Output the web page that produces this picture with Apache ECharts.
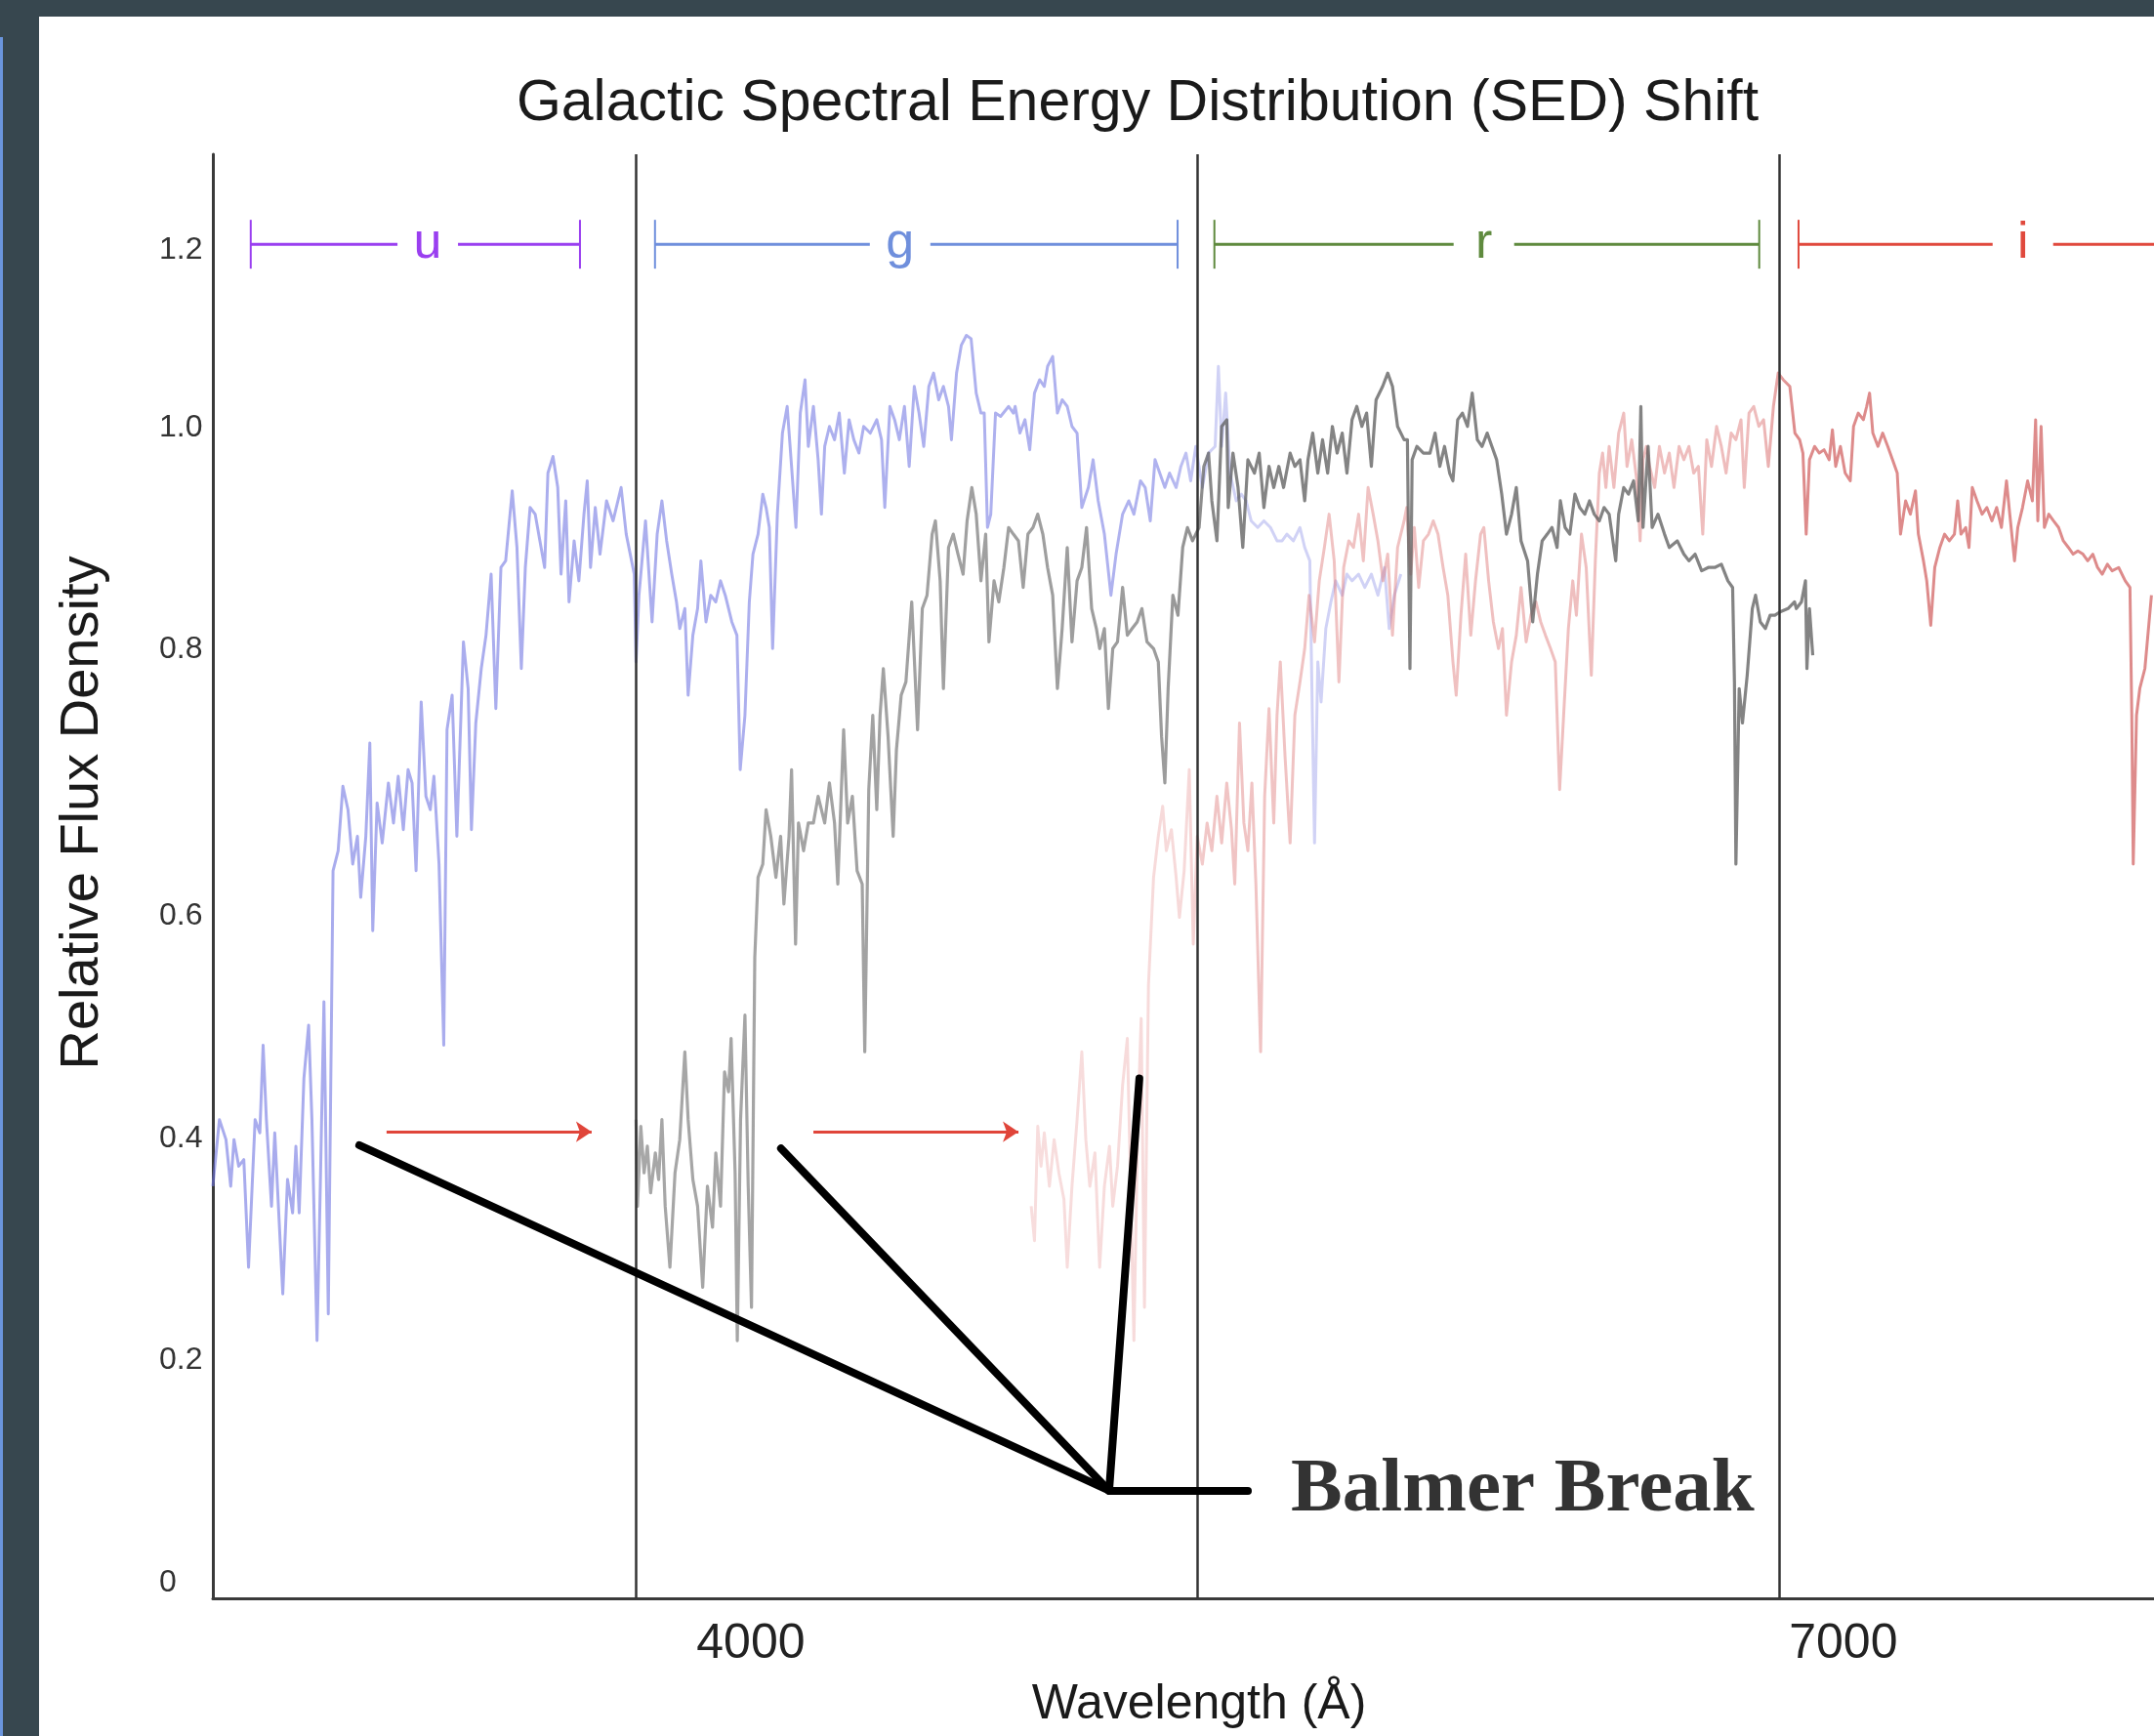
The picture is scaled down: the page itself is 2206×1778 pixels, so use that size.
<!DOCTYPE html>
<html>
<head>
<meta charset="utf-8">
<title>Galactic SED Shift</title>
<script src="https://cdn.jsdelivr.net/npm/echarts@6/dist/echarts.min.js"></script>
<style>
  html, body { margin: 0; padding: 0; }
  body { width: 2206px; height: 1778px; background: #37474f; position: relative; overflow: hidden; }
  #edge { position: absolute; left: 0; top: 38px; width: 3px; bottom: 0; background: #6a95dd; }
  #chart { position: absolute; left: 40px; top: 17px; width: 2166px; height: 1761px; background: #fff; }
</style>
</head>
<body>
<div id="edge"></div>
<div id="chart"></div>
<script>
// filter bands (wavelength in Angstrom)
var bandNames = ['u', 'g', 'r', 'i'];
var bandStart = [2627, 3737, 5273, 6877];
var bandEnd = [3531, 5172, 6769, 8300];
var bandLetterAt = [3113, 4410, 6013, 7493];
var bandLevel = 1.219;
var bandColors = ['#9a3ff0', '#6f8fdc', '#5f8a3e', '#e0493d'];
var bandEdges = [3685, 5225, 6825];

// axis ticks
var xTickValues = [4000, 7000];
var yTickValues = [0, 0.2, 0.4, 0.6, 0.84, 1.04, 1.2];
var yTickText = ['0', '0.2', '0.4', '0.6', '0.8', '1.0', '1.2'];

// rest-frame spectrum (blue), first shift (gray), second shift (pink)
var blueSpectrum = [
  [2523,0.371],[2541,0.431],[2559,0.413],[2572,0.371],[2581,0.413],[2594,0.389],[2608,0.395],[2621,0.298],
  [2639,0.431],[2652,0.419],[2661,0.498],[2670,0.431],[2684,0.353],[2693,0.419],[2715,0.274],[2728,0.377],
  [2742,0.347],[2751,0.407],[2760,0.347],[2773,0.468],[2786,0.516],[2795,0.431],[2809,0.232],[2818,0.371],
  [2828,0.537],[2840,0.256],[2853,0.655],[2867,0.673],[2880,0.731],[2894,0.710],[2907,0.661],[2920,0.686],
  [2929,0.631],[2943,0.686],[2954,0.770],[2962,0.601],[2974,0.716],[2988,0.680],[3005,0.734],[3019,0.698],
  [3032,0.740],[3046,0.692],[3059,0.746],[3070,0.734],[3081,0.655],[3095,0.807],[3108,0.722],[3120,0.710],
  [3130,0.740],[3144,0.661],[3157,0.498],[3166,0.782],[3180,0.813],[3193,0.686],[3211,0.861],[3224,0.819],
  [3233,0.692],[3245,0.788],[3260,0.837],[3273,0.867],[3287,0.922],[3300,0.801],[3314,0.928],[3327,0.934],
  [3345,0.997],[3358,0.946],[3370,0.837],[3381,0.928],[3394,0.982],[3408,0.976],[3421,0.952],[3434,0.928],
  [3443,1.013],[3457,1.028],[3470,1.000],[3479,0.922],[3492,0.988],[3501,0.897],[3515,0.952],[3528,0.916],
  [3542,0.976],[3551,1.006],[3560,0.928],[3573,0.982],[3586,0.940],[3604,0.988],[3622,0.970],[3644,1.000],
  [3658,0.958],[3680,0.922],[3685,0.843],[3693,0.903],[3711,0.970],[3729,0.879],[3743,0.958],[3756,0.988],
  [3769,0.952],[3783,0.922],[3796,0.897],[3805,0.873],[3819,0.891],[3828,0.813],[3841,0.867],[3854,0.891],
  [3863,0.934],[3877,0.879],[3890,0.903],[3904,0.897],[3917,0.916],[3930,0.903],[3948,0.879],[3962,0.867],
  [3971,0.746],[3984,0.795],[3996,0.897],[4006,0.940],[4020,0.958],[4033,0.994],[4042,0.982],[4051,0.964],
  [4060,0.855],[4073,0.976],[4087,1.049],[4100,1.073],[4112,1.019],[4124,0.964],[4136,1.067],[4149,1.097],
  [4158,1.037],[4172,1.073],[4185,1.025],[4194,0.976],[4203,1.037],[4216,1.055],[4230,1.043],[4243,1.067],
  [4257,1.013],[4270,1.061],[4283,1.043],[4297,1.031],[4310,1.055],[4328,1.049],[4346,1.061],[4359,1.043],
  [4368,0.982],[4382,1.073],[4395,1.061],[4408,1.043],[4422,1.073],[4435,1.019],[4449,1.091],[4462,1.067],
  [4475,1.037],[4489,1.091],[4502,1.103],[4516,1.079],[4529,1.091],[4543,1.073],[4551,1.043],[4565,1.103],
  [4578,1.128],[4592,1.137],[4605,1.134],[4619,1.085],[4632,1.067],[4641,1.067],[4650,0.964],[4659,0.976],
  [4672,1.067],[4686,1.064],[4708,1.073],[4721,1.067],[4726,1.073],[4739,1.049],[4753,1.061],[4766,1.034],
  [4779,1.085],[4793,1.097],[4806,1.091],[4815,1.109],[4829,1.118],[4842,1.067],[4855,1.079],[4869,1.073],
  [4882,1.055],[4896,1.049],[4909,0.982],[4927,1.000],[4940,1.025],[4954,0.988],[4971,0.958],[4989,0.903],
  [5003,0.940],[5021,0.976],[5038,0.988],[5052,0.976],[5070,1.006],[5083,1.000],[5097,0.970],[5110,1.025],
  [5123,1.013],[5137,1.000],[5150,1.013],[5168,1.000],[5181,1.019],[5195,1.031],[5208,1.006],[5222,1.037],
  [5240,1.000],[5257,1.031],[5275,1.037],[5284,1.109],[5293,1.037],[5304,1.085],[5316,1.013],[5333,0.988],
  [5347,0.994],[5360,0.988],[5374,0.970],[5392,0.964],[5409,0.970],[5427,0.964],[5445,0.952],[5459,0.952],
  [5472,0.958],[5490,0.952],[5508,0.964],[5521,0.946],[5535,0.934],[5542,0.795],[5548,0.680],[5557,0.843],
  [5566,0.807],[5579,0.873],[5593,0.897],[5606,0.916],[5624,0.903],[5637,0.922],[5651,0.916],[5669,0.922],
  [5686,0.910],[5704,0.922],[5722,0.903],[5740,0.928],[5753,0.873],[5767,0.903],[5785,0.922]
];
var graySpectrum = [
  [3685,0.431],[3689,0.353],[3698,0.425],[3707,0.383],[3716,0.407],[3725,0.365],[3738,0.401],[3747,0.377],
  [3756,0.431],[3765,0.353],[3778,0.298],[3792,0.383],[3805,0.413],[3819,0.492],[3828,0.431],[3841,0.377],
  [3854,0.353],[3868,0.280],[3881,0.371],[3895,0.334],[3904,0.401],[3917,0.353],[3928,0.474],[3939,0.456],
  [3946,0.504],[3957,0.383],[3963,0.232],[3972,0.431],[3984,0.525],[3993,0.371],[4002,0.262],[4011,0.577],
  [4020,0.649],[4033,0.661],[4042,0.710],[4055,0.686],[4069,0.649],[4082,0.686],[4091,0.625],[4105,0.686],
  [4112,0.746],[4123,0.589],[4131,0.698],[4145,0.673],[4158,0.698],[4172,0.698],[4185,0.722],[4203,0.698],
  [4216,0.734],[4230,0.698],[4239,0.643],[4255,0.782],[4266,0.698],[4279,0.722],[4292,0.655],[4306,0.643],
  [4313,0.492],[4324,0.728],[4335,0.795],[4346,0.710],[4355,0.795],[4364,0.837],[4377,0.776],[4391,0.686],
  [4400,0.764],[4413,0.813],[4426,0.825],[4442,0.897],[4458,0.782],[4471,0.891],[4484,0.903],[4498,0.958],
  [4507,0.970],[4520,0.916],[4529,0.819],[4543,0.946],[4556,0.958],[4569,0.940],[4583,0.922],[4594,0.970],
  [4607,1.000],[4619,0.976],[4632,0.916],[4645,0.958],[4654,0.861],[4668,0.916],[4681,0.897],[4695,0.928],
  [4708,0.964],[4721,0.958],[4735,0.952],[4748,0.910],[4761,0.958],[4775,0.964],[4788,0.976],[4802,0.958],
  [4815,0.928],[4829,0.903],[4842,0.819],[4855,0.873],[4869,0.946],[4882,0.861],[4896,0.916],[4909,0.928],
  [4922,0.964],[4936,0.891],[4949,0.873],[4958,0.855],[4971,0.873],[4982,0.801],[4994,0.855],[5007,0.861],
  [5021,0.910],[5034,0.867],[5047,0.873],[5061,0.879],[5074,0.891],[5088,0.861],[5106,0.855],[5119,0.843],
  [5128,0.776],[5137,0.734],[5146,0.819],[5159,0.903],[5173,0.885],[5186,0.946],[5199,0.964],[5213,0.952],
  [5231,0.964],[5244,1.019],[5257,1.031],[5266,0.988],[5280,0.952],[5293,1.055],[5307,1.061],[5311,0.982],
  [5324,1.031],[5338,1.000],[5351,0.946],[5365,1.025],[5383,1.013],[5396,1.031],[5409,0.982],[5423,1.019],
  [5436,1.000],[5450,1.019],[5463,1.000],[5481,1.031],[5494,1.019],[5508,1.025],[5521,0.988],[5530,1.025],
  [5543,1.049],[5557,1.013],[5570,1.043],[5584,1.013],[5597,1.055],[5610,1.031],[5624,1.049],[5637,1.013],
  [5651,1.061],[5664,1.073],[5678,1.055],[5691,1.067],[5704,1.019],[5717,1.079],[5735,1.091],[5749,1.103],
  [5762,1.091],[5776,1.055],[5794,1.043],[5803,1.043],[5810,0.837],[5816,1.025],[5829,1.037],[5847,1.031],
  [5865,1.031],[5879,1.049],[5892,1.019],[5905,1.037],[5919,1.013],[5928,1.006],[5941,1.061],[5954,1.067],
  [5968,1.055],[5981,1.085],[5995,1.043],[6008,1.037],[6022,1.049],[6035,1.037],[6048,1.025],[6062,0.994],
  [6075,0.958],[6089,0.976],[6102,1.000],[6115,0.952],[6133,0.934],[6147,0.879],[6160,0.922],[6173,0.952],
  [6187,0.958],[6200,0.964],[6214,0.946],[6223,0.988],[6236,0.964],[6249,0.958],[6263,0.994],[6276,0.982],
  [6290,0.976],[6303,0.988],[6316,0.976],[6330,0.970],[6343,0.982],[6357,0.976],[6375,0.934],[6383,0.976],
  [6397,1.000],[6410,0.994],[6424,1.006],[6437,0.970],[6444,1.073],[6450,0.964],[6464,1.037],[6475,0.964],
  [6491,0.976],[6509,0.958],[6522,0.946],[6544,0.952],[6562,0.940],[6576,0.934],[6593,0.940],[6611,0.925],
  [6629,0.928],[6647,0.928],[6665,0.931],[6683,0.916],[6696,0.910],[6701,0.825],[6705,0.661],[6714,0.819],
  [6723,0.788],[6736,0.831],[6750,0.891],[6759,0.903],[6772,0.879],[6786,0.873],[6799,0.885],[6812,0.885],
  [6826,0.888],[6848,0.891],[6866,0.897],[6871,0.891],[6885,0.897],[6896,0.916],[6900,0.837],[6907,0.891],
  [6916,0.849]
];
var pinkSpectrum = [
  [4770,0.353],[4779,0.322],[4788,0.425],[4797,0.389],[4806,0.419],[4820,0.371],[4833,0.413],[4846,0.383],
  [4860,0.359],[4869,0.298],[4882,0.371],[4896,0.431],[4909,0.492],[4920,0.413],[4931,0.371],[4945,0.401],
  [4958,0.298],[4971,0.371],[4985,0.407],[4994,0.353],[5007,0.389],[5021,0.462],[5034,0.504],[5043,0.371],
  [5052,0.232],[5063,0.431],[5072,0.522],[5081,0.262],[5092,0.552],[5106,0.649],[5119,0.686],[5131,0.713],
  [5141,0.673],[5155,0.692],[5168,0.649],[5177,0.613],[5190,0.655],[5204,0.746],[5215,0.589],[5226,0.686],
  [5240,0.661],[5253,0.698],[5266,0.673],[5280,0.722],[5293,0.680],[5307,0.734],[5320,0.692],[5329,0.643],
  [5342,0.788],[5354,0.698],[5365,0.673],[5376,0.734],[5387,0.643],[5400,0.492],[5411,0.722],[5423,0.801],
  [5436,0.698],[5445,0.795],[5454,0.843],[5467,0.758],[5481,0.680],[5494,0.795],[5508,0.825],[5521,0.855],
  [5533,0.903],[5548,0.861],[5561,0.916],[5575,0.946],[5588,0.976],[5602,0.934],[5615,0.825],[5628,0.928],
  [5642,0.952],[5655,0.946],[5669,0.976],[5682,0.934],[5695,1.000],[5709,0.976],[5722,0.952],[5736,0.916],
  [5749,0.940],[5762,0.867],[5776,0.946],[5794,0.970],[5801,0.982],[5812,0.922],[5822,0.964],[5834,0.910],
  [5847,0.952],[5861,0.958],[5874,0.970],[5887,0.958],[5901,0.928],[5914,0.903],[5928,0.843],[5937,0.813],
  [5950,0.885],[5963,0.940],[5977,0.867],[5990,0.916],[6004,0.958],[6013,0.964],[6026,0.916],[6039,0.879],
  [6053,0.855],[6064,0.873],[6075,0.795],[6089,0.843],[6102,0.867],[6115,0.910],[6129,0.861],[6142,0.885],
  [6156,0.897],[6169,0.879],[6182,0.867],[6196,0.855],[6209,0.843],[6221,0.728],[6232,0.795],[6245,0.873],
  [6257,0.916],[6267,0.885],[6281,0.958],[6294,0.928],[6308,0.831],[6319,0.934],[6330,1.013],[6339,1.031],
  [6348,1.000],[6357,1.037],[6370,1.000],[6383,1.049],[6397,1.067],[6406,1.019],[6419,1.043],[6433,1.006],
  [6442,0.952],[6450,1.025],[6459,1.037],[6468,1.019],[6482,1.000],[6495,1.037],[6509,1.013],[6522,1.031],
  [6535,1.000],[6549,1.037],[6562,1.025],[6576,1.037],[6589,1.013],[6602,1.019],[6614,0.958],[6625,1.043],
  [6638,1.019],[6652,1.055],[6665,1.037],[6678,1.013],[6692,1.049],[6705,1.043],[6719,1.061],[6728,1.000],
  [6741,1.067],[6754,1.073],[6768,1.055],[6781,1.061],[6794,1.019],[6808,1.073],[6821,1.103],[6835,1.097],
  [6853,1.091],[6867,1.049],[6880,1.043],[6889,1.031],[6898,0.958],[6907,1.025],[6921,1.037],[6934,1.031],
  [6947,1.034],[6961,1.025],[6970,1.052],[6979,1.019],[6992,1.037],[7005,1.013],[7019,1.006],[7028,1.055],
  [7041,1.067],[7055,1.061],[7064,1.073],[7072,1.085],[7081,1.049],[7095,1.037],[7108,1.049],[7122,1.037],
  [7135,1.025],[7148,1.013],[7157,0.958],[7171,0.988],[7184,0.976],[7198,0.997],[7206,0.958],[7220,0.934],
  [7229,0.916],[7240,0.876],[7251,0.928],[7265,0.946],[7278,0.958],[7291,0.952],[7305,0.958],[7314,0.988],
  [7323,0.958],[7336,0.964],[7345,0.946],[7354,1.000],[7367,0.988],[7381,0.976],[7394,0.982],[7408,0.970],
  [7421,0.982],[7434,0.964],[7448,1.006],[7457,0.976],[7470,0.934],[7479,0.964],[7492,0.982],[7506,1.006],
  [7519,0.988],[7528,1.061],[7534,0.970],[7543,1.055],[7552,0.964],[7564,0.976],[7577,0.970],[7591,0.964],
  [7604,0.952],[7618,0.946],[7631,0.940],[7644,0.943],[7658,0.940],[7671,0.934],[7685,0.940],[7698,0.928],
  [7711,0.922],[7725,0.931],[7738,0.925],[7756,0.928],[7774,0.916],[7787,0.910],[7792,0.795],[7796,0.661],
  [7805,0.795],[7814,0.819],[7828,0.837],[7846,0.903]
];

// annotations: redshift arrows and Balmer break pointers
var shiftArrows = [
  [[3000, 0.42], [3563, 0.42]],
  [[4172, 0.42], [4735, 0.42]]
];
var balmerVertex = [4984, 0.097];
var balmerTips = [[2925, 0.408], [4083, 0.405], [5067, 0.468], [5365, 0.097]];
var balmerLabelAt = [5365, 0.097];

var SANS = "'Liberation Sans', Arial, sans-serif";

var chart = echarts.init(document.getElementById('chart'), null, { renderer: 'canvas' });

function gradient(stops) {
  return new echarts.graphic.LinearGradient(0, 0, 1, 0, stops.map(function (s) {
    return { offset: s[0], color: s[1] };
  }));
}

var option = {
  backgroundColor: '#fff',
  animation: false,
  title: {
    text: 'Galactic Spectral Energy Distribution (SED) Shift',
    left: 1120,
    textAlign: 'center',
    top: 55,
    textStyle: { fontFamily: SANS, fontSize: 59, fontWeight: 'normal', color: '#1a1a1a' }
  },
  grid: { left: 178, right: 0, top: 141, bottom: 141, containLabel: false },
  xAxis: {
    type: 'value',
    min: 2523,
    max: 7853,
    name: 'Wavelength (Å)',
    nameLocation: 'middle',
    nameGap: 84,
    nameTextStyle: { fontFamily: SANS, fontSize: 50, color: '#1a1a1a', padding: [0, 0, 0, 32] },
    axisLine: { show: true, lineStyle: { color: '#3a3a3a', width: 3 } },
    axisTick: { show: false },
    splitLine: { show: false },
    axisLabel: {
      customValues: xTickValues,
      formatter: function (v) { return String(v); },
      margin: 22,
      fontFamily: SANS,
      fontSize: 50,
      color: '#222'
    }
  },
  yAxis: {
    type: 'value',
    min: 0,
    max: 1.3,
    name: 'Relative Flux Density',
    nameLocation: 'middle',
    nameRotate: 90,
    nameGap: 105,
    nameTextStyle: { fontFamily: SANS, fontSize: 56, color: '#1a1a1a', padding: [0, 0, 0, 130] },
    axisLine: { show: true, lineStyle: { color: '#3a3a3a', width: 3 } },
    axisTick: { show: false },
    splitLine: { show: false },
    axisLabel: {
      customValues: yTickValues,
      formatter: function (v) {
        for (var i = 0; i < yTickValues.length; i++) {
          if (Math.abs(yTickValues[i] - v) < 1e-6) return yTickText[i];
        }
        return '';
      },
      align: 'left',
      margin: 55,
      verticalAlign: 'bottom',
      fontFamily: SANS,
      fontSize: 32,
      color: '#333'
    }
  },
  series: [
    {
      name: 'rest frame',
      type: 'line',
      data: blueSpectrum,
      showSymbol: false,
      symbol: 'none',
      z: 2,
      lineStyle: {
        width: 3,
        join: 'round',
        color: gradient([[0, 'rgba(110,115,225,0.6)'], [0.8, 'rgba(110,115,225,0.55)'], [0.84, 'rgba(110,115,225,0.32)'], [1, 'rgba(110,115,225,0.32)']])
      },
      markLine: {
        silent: true,
        symbol: ['none', 'none'],
        label: { show: false },
        lineStyle: { color: '#333', width: 2.5, type: 'solid' },
        data: bandEdges.map(function (x) { return { xAxis: x }; })
      }
    },
    {
      name: 'shift 2',
      type: 'line',
      data: pinkSpectrum,
      showSymbol: false,
      symbol: 'none',
      z: 3,
      lineStyle: {
        width: 3,
        join: 'round',
        color: gradient([[0, 'rgba(225,120,120,0.25)'], [0.14, 'rgba(225,120,120,0.28)'], [0.16, 'rgba(220,115,115,0.42)'], [0.65, 'rgba(220,115,115,0.48)'], [0.68, 'rgba(210,100,100,0.75)'], [1, 'rgba(210,100,100,0.75)']])
      }
    },
    {
      name: 'shift 1',
      type: 'line',
      data: graySpectrum,
      showSymbol: false,
      symbol: 'none',
      z: 4,
      lineStyle: {
        width: 3.2,
        join: 'round',
        color: gradient([[0, 'rgba(95,95,95,0.55)'], [0.45, 'rgba(95,95,95,0.62)'], [0.5, 'rgba(90,90,90,0.75)'], [1, 'rgba(90,90,90,0.75)']])
      }
    },
    {
      name: 'bands',
      type: 'custom',
      z: 6,
      clip: false,
      data: bandNames.map(function (n, i) { return [bandStart[i], bandEnd[i], bandLetterAt[i], bandLevel]; }),
      renderItem: function (params, api) {
        var i = params.dataIndex;
        var y = api.value(3);
        var a = api.coord([api.value(0), y]);
        var b = api.coord([api.value(1), y]);
        var m = api.coord([api.value(2), y]);
        var c = bandColors[i];
        var gap = 31, cap = 25;
        var st = { stroke: c, lineWidth: 3 };
        return {
          type: 'group',
          children: [
            { type: 'line', shape: { x1: a[0], y1: a[1], x2: m[0] - gap, y2: a[1] }, style: st },
            { type: 'line', shape: { x1: m[0] + gap, y1: a[1], x2: b[0], y2: b[1] }, style: st },
            { type: 'line', shape: { x1: a[0], y1: a[1] - cap, x2: a[0], y2: a[1] + cap }, style: { stroke: c, lineWidth: 2 } },
            { type: 'line', shape: { x1: b[0], y1: b[1] - cap, x2: b[0], y2: b[1] + cap }, style: { stroke: c, lineWidth: 2 } },
            {
              type: 'text',
              style: {
                text: bandNames[i], x: m[0], y: m[1], align: 'center', verticalAlign: 'middle',
                font: 'normal 52px ' + SANS, fill: c
              }
            }
          ]
        };
      }
    },
    {
      name: 'shift arrows',
      type: 'lines',
      coordinateSystem: 'cartesian2d',
      z: 7,
      symbol: ['none', 'arrow'],
      symbolSize: 16,
      lineStyle: { color: '#e0453a', width: 3, opacity: 1 },
      data: shiftArrows.map(function (c) { return { coords: c }; })
    },
    {
      name: 'balmer pointers',
      type: 'lines',
      coordinateSystem: 'cartesian2d',
      z: 8,
      symbol: ['none', 'none'],
      lineStyle: { color: '#000', width: 8, opacity: 1, cap: 'round' },
      data: balmerTips.map(function (t) { return { coords: [balmerVertex, t] }; })
    },
    {
      name: 'balmer label',
      type: 'scatter',
      z: 9,
      symbolSize: 0,
      data: [balmerLabelAt],
      label: {
        show: true,
        position: 'right',
        distance: 44,
        formatter: 'Balmer Break',
        fontFamily: "'Liberation Serif', 'Times New Roman', serif",
        fontWeight: 'bold',
        fontSize: 79,
        color: '#000'
      }
    }
  ]
};

chart.setOption(option);
</script>
</body>
</html>
